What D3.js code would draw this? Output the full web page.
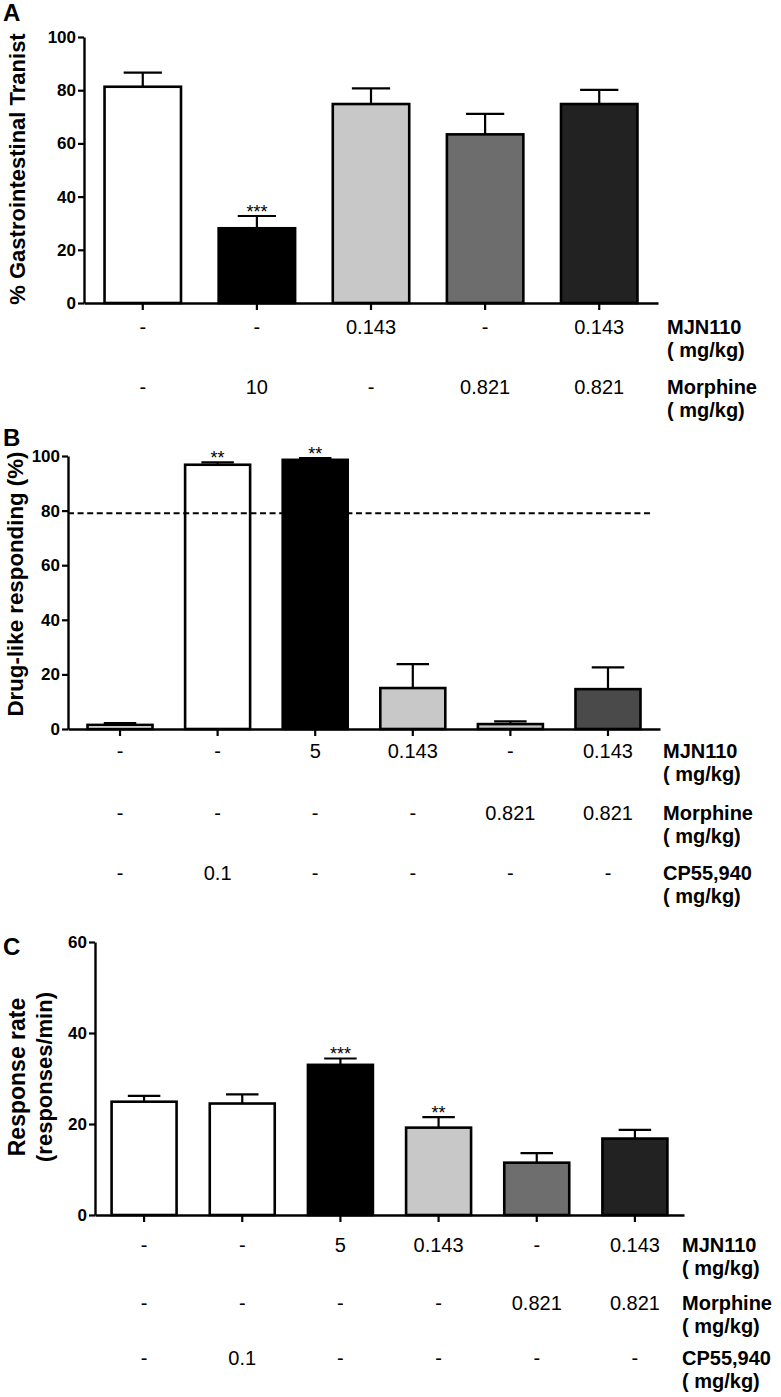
<!DOCTYPE html>
<html><head><meta charset="utf-8">
<script src="https://cdn.jsdelivr.net/npm/d3@7"></script>
<style>body{margin:0;background:#fff}svg{display:block}text{font-family:"Liberation Sans",Arial,sans-serif}</style>
</head><body>
<svg id="c" width="781" height="1397"></svg>
<script>
// Panel A
const aMeans = [81.3, 28.1, 74.8, 63.4, 74.8];
const aErr   = [86.6, 32.7, 80.7, 71.1, 80.1];
const aFills = ["#ffffff", "#000000", "#c8c8c8", "#6d6d6d", "#222222"];
const aStars = ["", "***", "", "", ""];
const aMJN   = ["-", "-", "0.143", "-", "0.143"];
const aMor   = ["-", "10", "-", "0.821", "0.821"];
const aTicks = [0, 20, 40, 60, 80, 100];
// Panel B
const bMeans = [1.5, 96.8, 98.6, 15.0, 1.8, 14.6];
const bErr   = [2.2, 97.7, 99.2, 23.8, 2.8, 22.6];
const bFills = ["#ffffff", "#ffffff", "#000000", "#c8c8c8", "#c8c8c8", "#4a4a4a"];
const bStars = ["", "**", "**", "", "", ""];
const bMJN   = ["-", "-", "5", "0.143", "-", "0.143"];
const bMor   = ["-", "-", "-", "-", "0.821", "0.821"];
const bCP    = ["-", "0.1", "-", "-", "-", "-"];
const bTicks = [0, 20, 40, 60, 80, 100];
const bThreshold = 79;
// Panel C
const cMeans = [24.9, 24.5, 33.0, 19.2, 11.5, 16.8];
const cErr   = [26.2, 26.5, 34.4, 21.5, 13.6, 18.7];
const cFills = ["#ffffff", "#ffffff", "#000000", "#c8c8c8", "#6e6e6e", "#222222"];
const cStars = ["", "", "***", "**", "", ""];
const cMJN   = bMJN, cMor = bMor, cCP = bCP;
const cTicks = [0, 20, 40, 60];

const svg = d3.select("#c");

function panel(o) {
  const g = svg.append("g");
  const n = o.means.length;
  const x = d3.scaleBand().domain(d3.range(n)).range([o.x0, o.x1])
    .paddingInner(o.pi).paddingOuter(o.po);
  const y = d3.scaleLinear().domain([0, o.ymax]).range([o.y0, o.y1]);
  const bw = x.bandwidth();
  g.selectAll("rect.bar").data(o.means).join("rect")
    .attr("x", (d, i) => x(i)).attr("width", bw)
    .attr("y", d => y(d)).attr("height", d => y(0) - y(d))
    .attr("fill", (d, i) => o.fills[i]).attr("stroke", "#000").attr("stroke-width", 2.6);
  const cw = bw * 0.5;
  g.selectAll("line.ev").data(o.err).join("line")
    .attr("x1", (d, i) => x(i) + bw / 2).attr("x2", (d, i) => x(i) + bw / 2)
    .attr("y1", (d, i) => y(o.means[i])).attr("y2", d => y(d))
    .attr("stroke", "#000").attr("stroke-width", 2.2);
  g.selectAll("line.ec").data(o.err).join("line")
    .attr("x1", (d, i) => x(i) + bw / 2 - cw / 2).attr("x2", (d, i) => x(i) + bw / 2 + cw / 2)
    .attr("y1", d => y(d)).attr("y2", d => y(d))
    .attr("stroke", "#000").attr("stroke-width", 2.2);
  g.selectAll("text.star").data(o.stars).join("text")
    .attr("x", (d, i) => x(i) + bw / 2).attr("y", (d, i) => y(o.err[i]) + 2)
    .attr("text-anchor", "middle").attr("font-size", 18).text(d => d);
  if (o.threshold !== undefined) {
    g.append("line").attr("x1", o.x0).attr("x2", o.dashEnd)
      .attr("y1", y(o.threshold)).attr("y2", y(o.threshold))
      .attr("stroke", "#000").attr("stroke-width", 2).attr("stroke-dasharray", "6,3.6");
  }
  const ya = g.append("g").attr("transform", `translate(${o.x0},0)`)
    .call(d3.axisLeft(y).tickValues(o.ticks).tickSize(6).tickSizeOuter(0).tickPadding(2));
  const xa = g.append("g").attr("transform", `translate(0,${o.y0})`)
    .call(d3.axisBottom(x).tickSize(7).tickSizeOuter(0).tickFormat(""));
  [ya, xa].forEach(a => {
    a.selectAll("path, line").attr("stroke", "#000").attr("stroke-width", 2.2);
    a.select("path.domain").attr("stroke-width", 2.4);
  });
  ya.selectAll("text").attr("font-size", 17).attr("font-weight", "bold").attr("fill", "#000");
  o.rows.forEach(r => {
    g.selectAll(null).data(r.vals).join("text")
      .attr("x", (d, i) => x(i) + bw / 2).attr("y", r.y + 7)
      .attr("text-anchor", "middle").attr("font-size", 20).text(d => d);
    g.append("text").attr("x", o.labelX).attr("y", r.y + 7)
      .attr("font-size", 20).attr("font-weight", "bold").text(r.name);
    g.append("text").attr("x", o.labelX).attr("y", r.y + 30)
      .attr("font-size", 20).attr("font-weight", "bold").text("( mg/kg)");
  });
  g.append("text").attr("x", 3).attr("y", o.letterY).attr("font-size", 24)
    .attr("font-weight", "bold").text(o.letter);
  o.titles.forEach(t => {
    g.append("text").attr("transform", `translate(${t.x},${t.y}) rotate(-90)`)
      .attr("text-anchor", "middle").attr("font-size", t.fs).attr("font-weight", "bold").text(t.text);
  });
}

panel({means: aMeans, err: aErr, fills: aFills, stars: aStars, ymax: 100, ticks: aTicks,
  x0: 84, x1: 658, pi: 0.33, po: 0.18, y0: 303, y1: 37, labelX: 667,
  rows: [{name: "MJN110", vals: aMJN, y: 327}, {name: "Morphine", vals: aMor, y: 387}],
  letter: "A", letterY: 21,
  titles: [{text: "% Gastrointestinal Tranist", x: 25, y: 169, fs: 22}]});

panel({means: bMeans, err: bErr, fills: bFills, stars: bStars, ymax: 100, ticks: bTicks,
  x0: 68, x1: 660, pi: 0.334, po: 0.2, y0: 729, y1: 456, labelX: 663,
  threshold: bThreshold, dashEnd: 653,
  rows: [{name: "MJN110", vals: bMJN, y: 751}, {name: "Morphine", vals: bMor, y: 813},
         {name: "CP55,940", vals: bCP, y: 873}],
  letter: "B", letterY: 446,
  titles: [{text: "Drug-like responding (%)", x: 23, y: 584, fs: 22.3}]});

panel({means: cMeans, err: cErr, fills: cFills, stars: cStars, ymax: 60, ticks: cTicks,
  x0: 95, x1: 684, pi: 0.338, po: 0.169, y0: 1215, y1: 942, labelX: 682,
  rows: [{name: "MJN110", vals: cMJN, y: 1245}, {name: "Morphine", vals: cMor, y: 1303},
         {name: "CP55,940", vals: cCP, y: 1358}],
  letter: "C", letterY: 955,
  titles: [{text: "Response rate", x: 25, y: 1077, fs: 23},
           {text: "(responses/min)", x: 52, y: 1077, fs: 22}]});
</script>
</body></html>
